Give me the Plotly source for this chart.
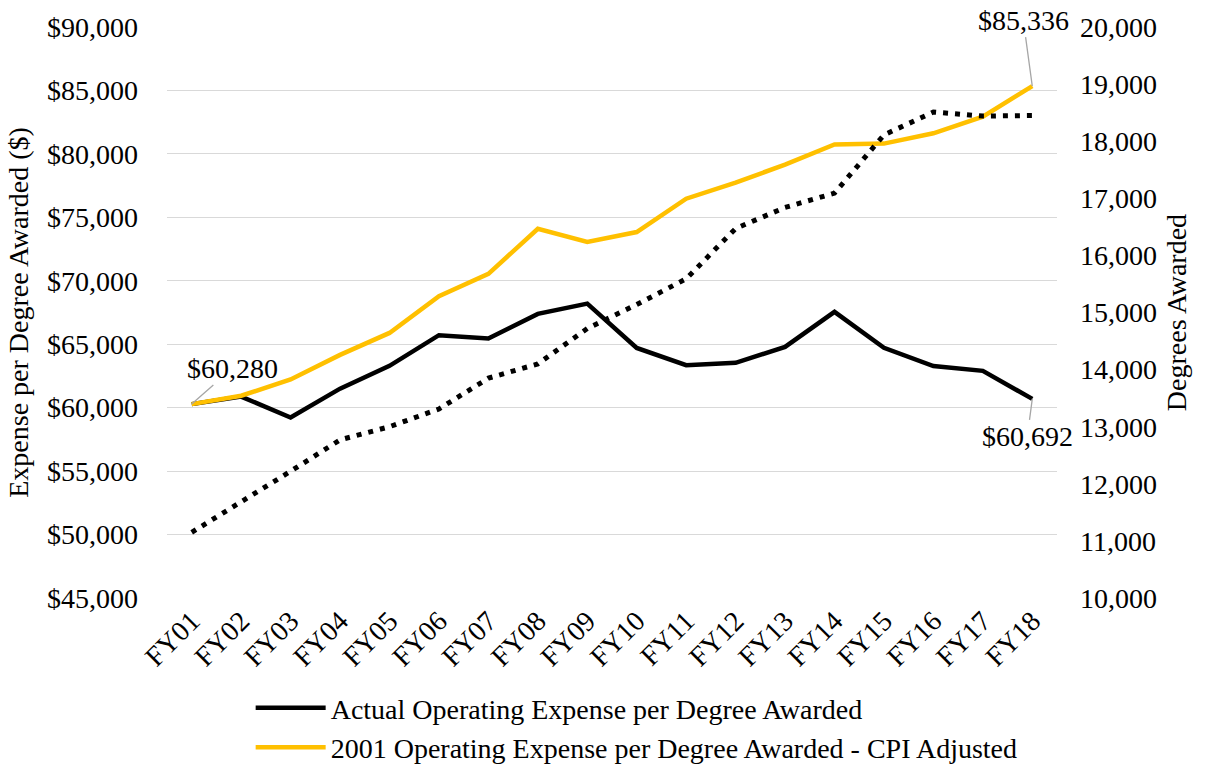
import plotly.graph_objects as go

categories = ["FY01", "FY02", "FY03", "FY04", "FY05", "FY06", "FY07", "FY08", "FY09",
              "FY10", "FY11", "FY12", "FY13", "FY14", "FY15", "FY16", "FY17", "FY18"]
actual_expense = [60280, 60875, 59220, 61500, 63300, 65710, 65450, 67390, 68200,
                  64710, 63345, 63530, 64790, 67550, 64720, 63280, 62900, 60692]
cpi_adjusted = [60280, 60940, 62220, 64160, 65890, 68790, 70550, 74100, 73060,
                73840, 76470, 77730, 79160, 80740, 80810, 81625, 82940, 85336]
degrees_awarded = [11150, 11680, 12220, 12770, 13000, 13310, 13850, 14100, 14720,
                   15140, 15590, 16470, 16840, 17090, 18110, 18510, 18440, 18450]

left_ticks = list(range(45000, 90001, 5000))
right_ticks = list(range(10000, 20001, 1000))

FONT = "'Liberation Serif', 'Times New Roman', Times, serif"
GOLD = "#FFC000"
FS = 28

fig = go.Figure()
fig.add_trace(go.Scatter(x=categories, y=degrees_awarded, mode="lines", yaxis="y2",
                         line=dict(color="black", width=5, dash="5px,7px"),
                         showlegend=False, name="Degrees Awarded"))
fig.add_trace(go.Scatter(x=categories, y=actual_expense, mode="lines",
                         line=dict(color="black", width=4.5),
                         name="Actual Operating Expense per Degree Awarded"))
fig.add_trace(go.Scatter(x=categories, y=cpi_adjusted, mode="lines",
                         line=dict(color=GOLD, width=4.5),
                         name="2001 Operating Expense per Degree Awarded - CPI Adjusted"))

ann_style = dict(showarrow=True, arrowhead=0, arrowwidth=1.3, arrowcolor="#A6A6A6",
                 font=dict(family=FONT, size=FS, color="#000000"), standoff=0)
fig.add_annotation(x=categories[0], y=actual_expense[0], text="$60,280",
                   ax=41, ay=-36, **ann_style)
fig.add_annotation(x=categories[-1], y=cpi_adjusted[-1], text="$85,336",
                   ax=-9, ay=-66, **ann_style)
fig.add_annotation(x=categories[-1], y=actual_expense[-1], text="$60,692",
                   ax=-5, ay=38, **ann_style)

fig.update_layout(
    width=1209, height=765,
    margin=dict(l=167, r=152, t=27, b=167, autoexpand=False),
    paper_bgcolor="white", plot_bgcolor="white",
    font=dict(family=FONT, size=FS, color="#000000"),
    xaxis=dict(type="category", range=[-0.5, 17.5], tickangle=-45, automargin=False,
               showgrid=False, showline=False, ticks="", ticklen=0,
               tickfont=dict(family=FONT, size=FS)),
    yaxis=dict(range=[45000, 90000], tickvals=left_ticks, automargin=False,
               tickformat="$,.0f", showgrid=True, gridcolor="#D9D9D9", gridwidth=1.3,
               zeroline=False, showline=False, ticks="", ticklabelstandoff=28,
               tickfont=dict(family=FONT, size=FS),
               title=dict(text="Expense per Degree Awarded ($)",
                          font=dict(family=FONT, size=FS), standoff=10)),
    yaxis2=dict(range=[10000, 20000], tickvals=right_ticks, tickformat=",.0f", automargin=False,
                overlaying="y", side="right", showgrid=False, zeroline=False,
                showline=False, ticks="", ticklabelstandoff=22,
                tickfont=dict(family=FONT, size=FS),
                title=dict(text="Degrees Awarded", font=dict(family=FONT, size=FS), standoff=10)),
    legend=dict(orientation="v", x=0.094, xanchor="left", y=-0.149, yanchor="top",
                font=dict(family=FONT, size=FS), bgcolor="rgba(0,0,0,0)", tracegroupgap=0,
                itemwidth=70),
)

fig.write_html("out.html", config={"displayModeBar": False},
               post_script="document.body.style.margin='0';")
